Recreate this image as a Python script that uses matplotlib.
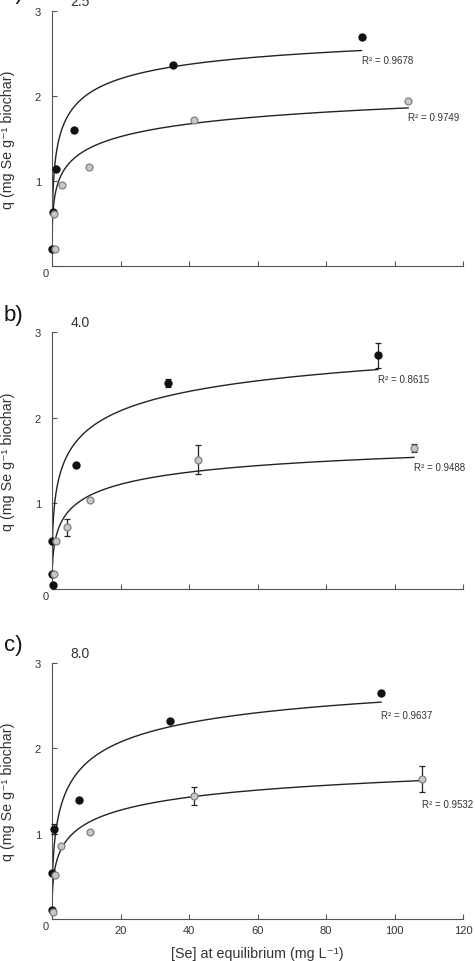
import numpy as np
import matplotlib.pyplot as plt

plt.rcParams['font.family'] = ['Liberation Sans', 'DejaVu Sans']

# Datos (tres pH)
panel_tags = ['a)', 'b)', 'c)']
ph_labels = ['2.5', '4.0', '8.0']

# serie negra
dark_c = [[0.1, 0.2, 1.2, 6.4, 35.2, 90.4],
          [0.3, 0.1, 0.1, 7.0, 33.8, 95.2],
          [0.1, 0.1, 0.7, 7.8, 34.5, 96.1]]
dark_q = [[0.20, 0.64, 1.14, 1.60, 2.37, 2.69],
          [0.05, 0.18, 0.56, 1.45, 2.41, 2.73],
          [0.105, 0.54, 1.05, 1.39, 2.32, 2.64]]
dark_err = [[0, 0, 0, 0, 0, 0],
            [0, 0, 0, 0, 0.045, 0.145],
            [0, 0, 0.06, 0, 0, 0.02]]

# serie gris
light_c = [[0.9, 0.7, 2.9, 10.9, 41.6, 104.0],
           [0.7, 1.2, 4.4, 11.0, 42.7, 105.7],
           [0.3, 0.9, 2.7, 11.1, 41.5, 108.1]]
light_q = [[0.20, 0.61, 0.95, 1.16, 1.72, 1.94],
           [0.18, 0.56, 0.72, 1.04, 1.51, 1.65],
           [0.08, 0.52, 0.86, 1.015, 1.44, 1.64]]
light_err = [[0, 0, 0, 0, 0, 0],
             [0, 0, 0.10, 0, 0.17, 0.05],
             [0, 0, 0, 0, 0.10, 0.15]]

# parámetros del ajuste (Qm, K, n) y R²
dark_fit = [(3.0, 0.48, 0.45), (3.5, 0.131, 0.40), (3.2, 0.182, 0.47)]
light_fit = [(2.6, 0.134, 0.35), (2.0, 0.1375, 0.45), (2.2, 0.107, 0.42)]
dark_r2 = ['0.9678', '0.8615', '0.9637']
light_r2 = ['0.9749', '0.9488', '0.9532']

x_ticks = [0, 20, 40, 60, 80, 100, 120]
y_ticks = [0, 1, 2, 3]

# desplazamiento vertical de las etiquetas R² (puntos)
dark_lab_dy = [-3.5, -3.5, -6]
light_lab_dy = [-3, -3.5, -13]


def sips(c, qm, k, n):
    u = (k * c) ** n
    return qm * u / (1 + u)


fig = plt.figure(figsize=(4.75, 9.62), dpi=100)
W, H = 475, 962
tops = [12, 333.3, 663.7]
bottoms = [267, 590, 920]

axis_col = '#555555'
for i in range(3):
    ax = fig.add_axes([52 / W, 1 - bottoms[i] / H, 411 / W, (bottoms[i] - tops[i]) / H])
    ax.set_xlim(0, 120)
    ax.set_ylim(0, 3)

    # curvas de ajuste
    for cs, fit in ((dark_c[i], dark_fit[i]), (light_c[i], light_fit[i])):
        cc = np.geomspace(0.001, max(cs), 400)
        ax.plot(cc, sips(cc, *fit), color='#222222', lw=1.0, zorder=2)

    ax.errorbar(dark_c[i], dark_q[i], yerr=dark_err[i], fmt='o', ms=5,
                mfc='#111111', mec='#111111', ecolor='#222222', elinewidth=0.9,
                capsize=2.5, capthick=0.9, zorder=4, clip_on=False)
    ax.errorbar(light_c[i], light_q[i], yerr=light_err[i], fmt='o', ms=5,
                mfc='#c8c8c8', mec='#808080', mew=0.9, ecolor='#222222',
                elinewidth=0.9, capsize=2.5, capthick=0.9, zorder=5, clip_on=False)

    # etiquetas R²
    for cs, fit, r2, dy in ((dark_c[i], dark_fit[i], dark_r2[i], dark_lab_dy[i]),
                            (light_c[i], light_fit[i], light_r2[i], light_lab_dy[i])):
        xe = max(cs)
        ax.annotate('R² = ' + r2, xy=(xe, sips(xe, *fit)), xytext=(0, dy),
                    textcoords='offset points', ha='left', va='top',
                    fontsize=7, color='#333333', annotation_clip=False)

    for s in ['top', 'right']:
        ax.spines[s].set_visible(False)
    for s in ['left', 'bottom']:
        ax.spines[s].set_color(axis_col)
        ax.spines[s].set_linewidth(0.8)

    ax.set_xticks(x_ticks)
    ax.set_yticks(y_ticks)
    ax.set_yticklabels(['', '1', '2', '3'])
    ax.tick_params(direction='in', length=3.5, width=0.8, color=axis_col,
                   labelsize=8, labelcolor='#333333')
    ax.tick_params(axis='y', pad=8)
    ax.tick_params(axis='x', pad=4)
    if i < 2:
        ax.set_xticklabels([])
    else:
        ax.set_xticklabels([''] + [str(t) for t in x_ticks[1:]])
        ax.set_xlabel('[Se] at equilibrium (mg L⁻¹)', fontsize=10.3,
                      color='#333333', labelpad=8)

    ax.annotate('0', xy=(0, 0), xytext=(-4.3, -5), textcoords='offset points',
                ha='center', va='center', fontsize=8, color='#333333',
                annotation_clip=False)

    ax.set_ylabel('q (mg Se g⁻¹ biochar)', fontsize=10.3, color='#333333')
    ax.yaxis.set_label_coords(-37 / 411, 0.5)

    ax.text(28 / 411, 1 + 10 / (bottoms[i] - tops[i]), ph_labels[i],
            transform=ax.transAxes, ha='center', va='center',
            fontsize=10, color='#333333')
    fig.text(13 / W, 1 - (tops[i] - 18) / H, panel_tags[i], ha='center',
             va='center', fontsize=16, color='#111111')

fig.savefig('out.png', dpi=100)
